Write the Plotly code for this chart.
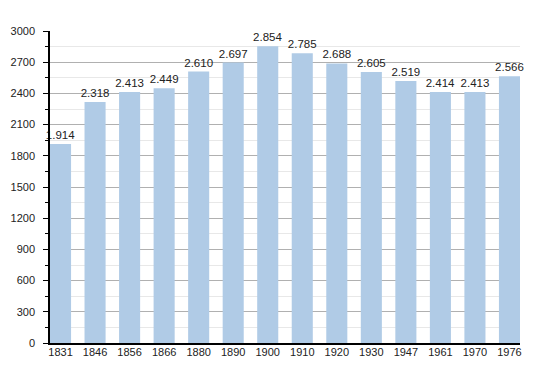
import plotly.graph_objects as go

years = ["1831", "1846", "1856", "1866", "1880", "1890", "1900", "1910", "1920", "1930", "1947", "1961", "1970", "1976"]
population = [1914, 2318, 2413, 2449, 2610, 2697, 2854, 2785, 2688, 2605, 2519, 2414, 2413, 2566]
labels = [f"{v:,}".replace(",", ".") for v in population]

fig = go.Figure(go.Bar(
    x=years, y=population, text=labels, textposition="outside",
    constraintext="none", textangle=0,
    marker=dict(color="#b0cbe6", line=dict(width=0)),
    textfont=dict(family="Liberation Sans, Arial", size=11.5, color="#222"),
    cliponaxis=False, hoverinfo="skip",
))

fig.update_layout(
    width=550, height=373,
    margin=dict(l=50, r=30, t=31, b=30, autoexpand=False),
    plot_bgcolor="white", paper_bgcolor="white",
    bargap=0.39,
    showlegend=False,
    font=dict(family="Liberation Sans, Arial", size=11, color="#222"),
)
fig.update_xaxes(
    type="category", range=[-0.305, 13.305], automargin=False,
    showline=True, linecolor="black", linewidth=1.5,
    ticks="", showgrid=False, ticklabelstandoff=-2,
)
fig.update_yaxes(
    range=[0, 3000], tickvals=list(range(0, 3001, 300)), automargin=False,
    showline=True, linecolor="black", linewidth=1.5,
    ticks="outside", ticklen=5, tickcolor="black",
    showgrid=True, gridcolor="#b0b0b0", gridwidth=1,
    zeroline=False,
    ticklabelstandoff=6,
    minor=dict(dtick=150, tick0=0, showgrid=True, gridcolor="#e8e8e8",
               ticks="outside", ticklen=3, tickcolor="black"),
)

fig.write_html("out.html", post_script="document.body.style.margin='0';",
               config={"displayModeBar": False})
